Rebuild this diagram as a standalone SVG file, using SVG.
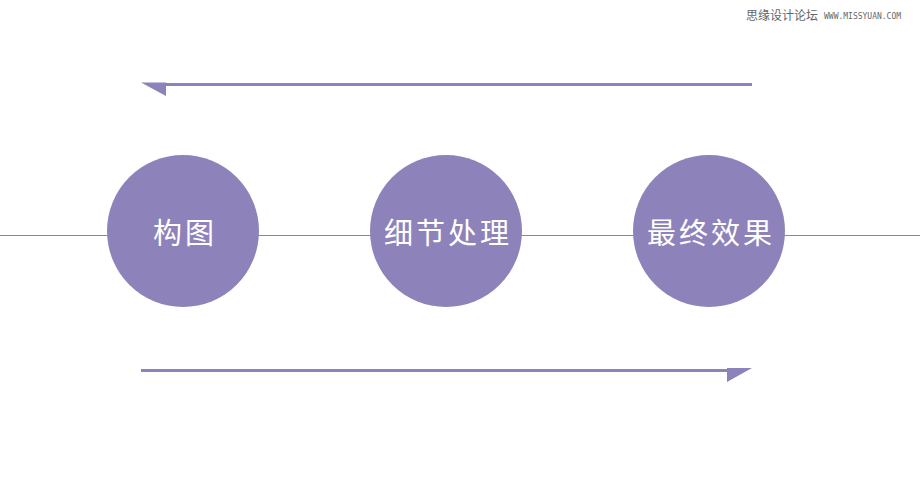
<svg xmlns="http://www.w3.org/2000/svg" width="920" height="484" viewBox="0 0 920 484">
<style>
.node{fill:#8E82BA}
.lbl{font-family:"Noto Sans CJK SC","Noto Sans CJK JP",sans-serif;font-size:29px;fill:#fff;text-anchor:middle;dominant-baseline:central;letter-spacing:3px}
.arr{stroke:#8E82BA;stroke-width:3;fill:none}
.head{fill:#8E82BA}
</style>
<rect width="920" height="484" fill="#fff"/>
<g id="connectors">
<line x1="0" y1="235.5" x2="920" y2="235.5" stroke="#8A84A8" stroke-width="1"/>
<line class="arr" x1="160" y1="84.5" x2="752" y2="84.5"/>
<polygon class="head" points="141,82.5 166,82.5 166,96"/>
<line class="arr" x1="141" y1="370.5" x2="735" y2="370.5"/>
<polygon class="head" points="727,368 752,368 727,382"/>
</g>
<g id="n1"><circle class="node" cx="183" cy="231" r="76"/><text class="lbl" x="185" y="231">构图</text></g>
<g id="n2"><circle class="node" cx="446" cy="231" r="76"/><text class="lbl" x="448" y="231">细节处理</text></g>
<g id="n3"><circle class="node" cx="709" cy="231" r="76"/><text class="lbl" x="711" y="231">最终效果</text></g>
<g id="watermark">
<text x="746" y="20" font-family="Noto Sans CJK SC,sans-serif" font-size="12" fill="#666">思缘设计论坛</text>
<text x="824" y="19" font-family="DejaVu Sans Mono,monospace" font-size="8" fill="#666">WWW.MISSYUAN.COM</text>
</g>
</svg>
